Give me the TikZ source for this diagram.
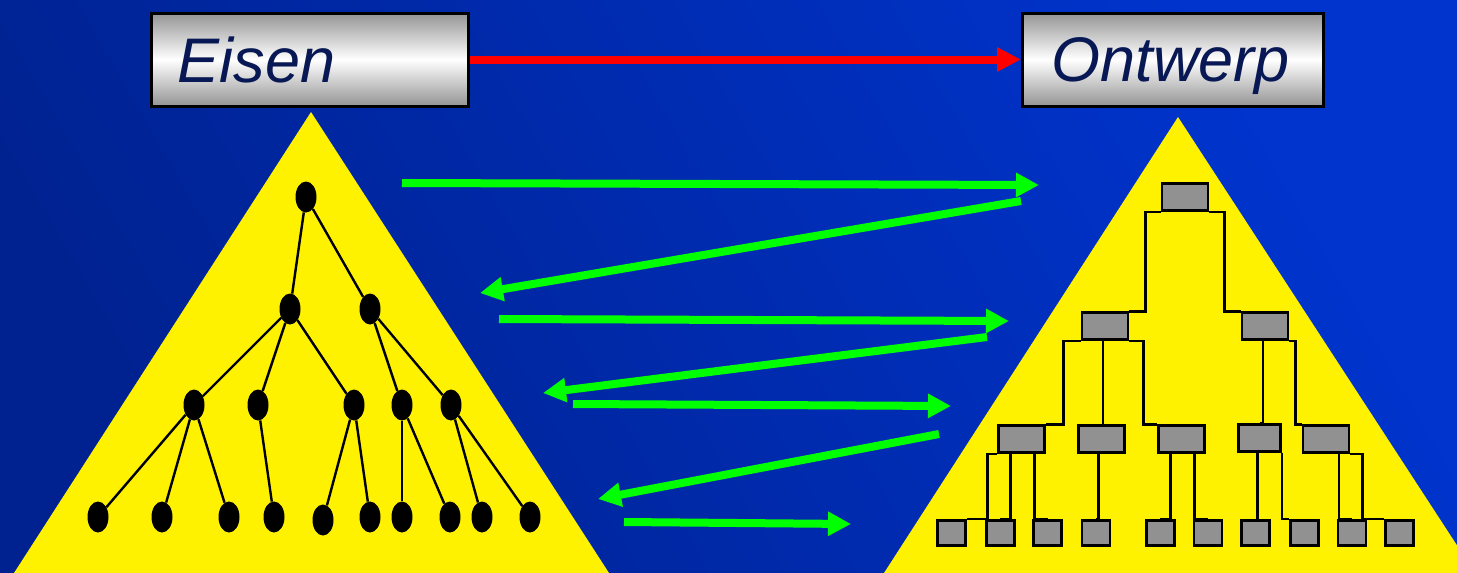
\documentclass[tikz,border=0pt]{standalone}
\usepackage{fontspec}
\setmainfont{Liberation Sans}
\usetikzlibrary{arrows.meta,shapes.geometric}
\definecolor{bgdark}{RGB}{0,34,145}
\definecolor{bglight}{RGB}{0,52,205}
\definecolor{navy}{RGB}{8,24,84}
\definecolor{boxgray}{RGB}{145,145,145}
\definecolor{lime}{RGB}{0,255,0}
\begin{document}
\begin{tikzpicture}[x=1pt,y=-1pt,
  knoop/.style={ellipse, fill, inner sep=0pt, minimum width=21pt, minimum height=31pt},
  blok/.style={draw, line width=2.7pt, fill=boxgray, inner sep=0pt, minimum width=46pt, minimum height=27pt},
  blad/.style={blok, minimum width=28pt, minimum height=25pt},
  titel/.style={draw, line width=3pt, top color=black!42, bottom color=black!42, middle color=white, minimum height=93pt, text depth=0pt, align=left, text=navy, font=\fontsize{63}{70}\selectfont\itshape},
  pijl/.style={line width=8pt, lime, -{Triangle[length=23pt,width=23pt]}},
  rood/.style={line width=8pt, red, -{Triangle[length=24pt,width=23pt]}},
  lijn/.style={line width=2.4pt},
  bus/.style={line width=2.7pt}]
\useasboundingbox (0,0) rectangle (1457,573);
\shade[top color=bglight, bottom color=bgdark, shading angle=-60] (0,0) rectangle (1457,573);
\fill[yellow] (311,112) -- (14,573) -- (609,573) -- cycle;
\fill[yellow] (1178,117) -- (884,573) -- (1475,573) -- cycle;
\node[titel, inner xsep=26pt, text width=265pt] (eisen) at (310,59.5) {Eisen};
\node[titel, inner xsep=29pt, text width=243pt] (ontwerp) at (1173,59.5) {Ontwerp};
\draw[rood] (eisen) -- (ontwerp);
\coordinate (van1) at (402,183); \coordinate (naar1) at (1039,185);
\coordinate (van2) at (1021,201); \coordinate (naar2) at (480,293);
\coordinate (van3) at (499,319); \coordinate (naar3) at (1009,321);
\coordinate (van4) at (987,337); \coordinate (naar4) at (543,393);
\coordinate (van5) at (573,404); \coordinate (naar5) at (951,406);
\coordinate (van6) at (939,434); \coordinate (naar6) at (598,499);
\coordinate (van7) at (624,522); \coordinate (naar7) at (851,524);
\foreach \i in {1,...,7}
  \draw[pijl] (van\i) -- (naar\i);
\node[knoop] (e0) at (306,197){};
\node[knoop] (e1) at (290,309){};
\node[knoop] (e2) at (370,309){};
\node[knoop] (e3) at (194,405){};
\node[knoop] (e4) at (258,405){};
\node[knoop] (e5) at (354,405){};
\node[knoop] (e6) at (402,405){};
\node[knoop] (e7) at (451,405){};
\node[knoop] (e8) at (98,517){};
\node[knoop] (e9) at (162,517){};
\node[knoop] (e10) at (229,517){};
\node[knoop] (e11) at (274,517){};
\node[knoop] (e12) at (323,520){};
\node[knoop] (e13) at (370,517){};
\node[knoop] (e14) at (402,517){};
\node[knoop] (e15) at (450,517){};
\node[knoop] (e16) at (482,517){};
\node[knoop] (e17) at (530,517){};
\foreach \a/\b in {e0/e1, e0/e2, e1/e3, e1/e4, e1/e5, e2/e6, e2/e7, e3/e8, e3/e9, e3/e10,
  e4/e11, e5/e12, e5/e13, e6/e14, e6/e15, e7/e16, e7/e17}
  \draw[lijn] (\a) -- (\b);
\node[blok] (o0) at (1185,197){};
\node[blok] (o1) at (1105,326){};
\node[blok] (o2) at (1265,326){};
\node[blok] (o3) at (1021.5,439){};
\node[blok] (o4) at (1101.7,439){};
\node[blok] (o5) at (1181.8,439){};
\node[blok, minimum width=42pt] (o6) at (1259.7,438){};
\node[blok] (o7) at (1326,439){};
\node[blad] (o8) at (951.6,532.7){};
\node[blad] (o9) at (1000.2,532.7){};
\node[blad] (o10) at (1047.7,532.7){};
\node[blad] (o11) at (1095.9,532.7){};
\node[blad] (o12) at (1160.3,532.7){};
\node[blad] (o13) at (1208.1,532.7){};
\node[blad] (o14) at (1255.6,532.7){};
\node[blad] (o15) at (1304.2,532.7){};
\node[blad] (o16) at (1352,532.7){};
\node[blad] (o17) at (1399.8,532.7){};
\draw[bus] (o0.south west) -- ++(-15,0) |- (o1.north east);
\draw[bus] (o0.south east) -- ++(15,0) |- (o2.north west);
\draw[bus] (o1.south west) -- ++(-17,0) |- (o3.north east);
\draw[bus] (o1.south) ++(-2,0) |- (o4.north);
\draw[bus] (o1.south east) -- ++(14,0) |- (o5.north west);
\draw[bus] (o2.south) ++(-2,0) |- (o6.north);
\draw[bus] (o2.south east) -- ++(6,0) |- (o7.north west);
\draw[bus] (o3.south west) -- ++(-10,0) |- (o8.north east);
\draw[bus] (o3.south) ++(-11,0) |- (o9.north);
\draw[bus] (o3.south) ++(13,0) |- (o10.north);
\draw[bus] (o4.south) ++(-3,0) |- (o11.north);
\draw[bus] (o5.south) ++(-11,0) |- (o12.north);
\draw[bus] (o5.south) ++(13,0) |- (o13.north);
\draw[bus] (o6.south) ++(-2,0) |- (o14.north);
\draw[bus] (o6.south east) |- (o15.north west);
\draw[bus] (o7.south) ++(13,0) |- (o16.north);
\draw[bus] (o7.south east) -- ++(12,0) |- (o17.north west);
\end{tikzpicture}
\end{document}
